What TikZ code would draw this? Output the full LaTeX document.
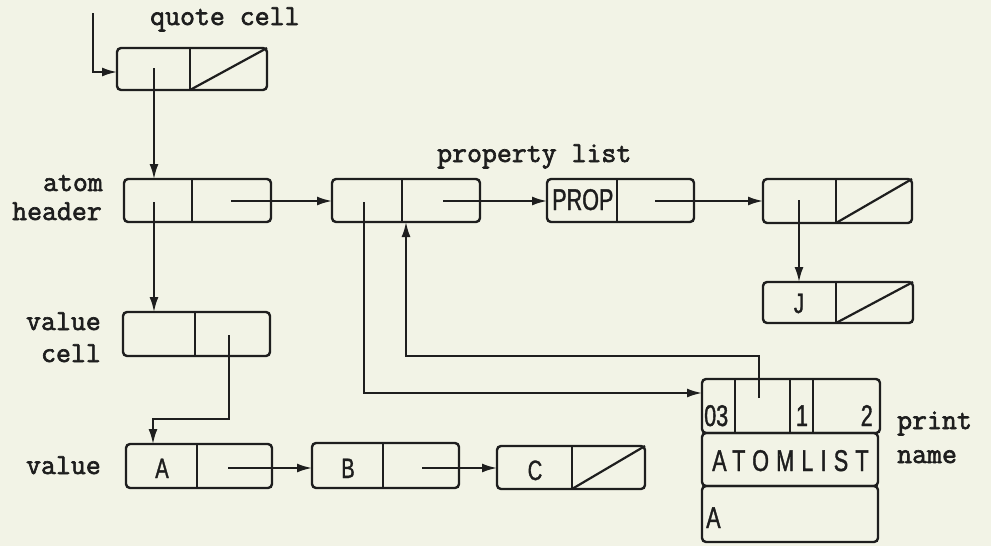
\documentclass[tikz,border=0pt]{standalone}
\usepackage{fontspec}
\usetikzlibrary{arrows.meta}
\newfontfamily\labfont[FakeBold=2.2]{Latin Modern Mono}
\newfontfamily\cellfont[FakeStretch=0.72,FakeBold=1.2]{Liberation Sans}
\newfontfamily\cellfontsp[FakeStretch=0.72,FakeBold=1.2,LetterSpace=24]{Liberation Sans}
\definecolor{paper}{RGB}{242,243,230}
\definecolor{ink}{RGB}{30,30,30}
\newcommand\conscell[6]{%
  \node[cell, minimum width={(#4-#2)*1pt}, minimum height={(#5-#3)*1pt}] (#1) at ({(#2+#4)/2},{(#3+#5)/2}) {};
  \coordinate (#1-dt) at (#6,#3);
  \coordinate (#1-db) at (#6,#5);
  \draw[divline] (#1-dt) -- (#1-db);
}
\newcommand\nilslash[1]{\draw[divline] (#1-db) -- (#1.north east);}
\begin{document}
\begin{tikzpicture}[x=1pt,y=-1pt,
  cell/.style={draw=ink, rounded corners=4pt, line width=2.4pt, inner sep=0pt, outer sep=0pt},
  divline/.style={draw=ink, line width=2.2pt},
  ptr/.style={draw=ink, line width=2pt, -{Latex[length=15pt,width=9pt]}},
  lab/.style={font=\labfont\fontsize{29}{30}\selectfont, inner sep=0pt, text=ink},
  ct/.style={font=\cellfont\fontsize{30}{32}\selectfont, inner sep=0pt, text=ink},
  cts/.style={font=\cellfont\fontsize{28}{30}\selectfont, inner sep=0pt, text=ink}]
\fill[paper] (0,0) rectangle (991,546);
\useasboundingbox (0,0) rectangle (991,546);

% cons cells
\conscell{q}{117}{48}{267}{90}{190}
\nilslash{q}
\conscell{h}{124}{179}{271}{222}{192}
\conscell{p1}{332}{179}{480}{222}{402}
\conscell{p2}{547}{179}{694}{222}{617}
\conscell{p3}{763}{179}{912}{223}{836}
\nilslash{p3}
\conscell{j}{763}{282}{913}{323}{836}
\nilslash{j}
\conscell{v}{123}{312}{270}{356}{195}
\conscell{a}{126}{444}{272}{488}{197}
\conscell{b}{312}{443}{459}{488}{383}
\conscell{c}{497}{446}{645}{489}{572}
\nilslash{c}

% print name block
\node[cell, minimum width=178pt, minimum height=54pt] (pn) at (791,406) {};
\draw[divline] (735,379) -- (735,433);
\draw[divline] (790,379) -- (790,433);
\draw[divline] (813,379) -- (813,433);
\node[cell, minimum width=176pt, minimum height=53pt] (pn2) at (790,459.5) {};
\node[cell, minimum width=176pt, minimum height=56pt] (pn3) at (790,514) {};

% cell texts
\node[ct, anchor=base west] (tprop) at (552,210) {PROP};
\node[cts, anchor=base] (tA) at (162,478) {A};
\node[cts, anchor=base] (tB) at (348,478) {B};
\node[cts, anchor=base] (tC) at (535,480) {C};
\node[cts, anchor=base] (tJ) at (799,313) {J};
\node[ct, anchor=base west] (t03) at (704,426) {03};
\node[ct, anchor=base] (t1) at (802,426) {1};
\node[ct, anchor=base east] (t2) at (873,426) {2};
\node[ct, anchor=base west, font=\cellfontsp\fontsize{30}{32}\selectfont] (tatl) at (712,471) {ATOMLIST};
\node[ct, anchor=base west] (tA2) at (706,528) {A};

% labels
\node[lab, anchor=base west] (lq) at (150,25) {quote cell};
\node[lab, anchor=base west] (lp) at (437,162) {property list};
\node[lab, anchor=base east] (lh1) at (103,191) {atom};
\node[lab, anchor=base east] (lh2) at (102,220) {header};
\node[lab, anchor=base east] (lv1) at (101,330) {value};
\node[lab, anchor=base east] (lv2) at (101,362) {cell};
\node[lab, anchor=base east] (lv3) at (101,474) {value};
\node[lab, anchor=base west] (lpn1) at (897,429) {print};
\node[lab, anchor=base west] (lpn2) at (897,463) {name};

% pointer origins
\coordinate (start) at (93,13);
\coordinate (qin) at (117,72);
\coordinate (qa) at (154,68);
\coordinate (ha) at (154,202);
\coordinate (hb) at (231,201);
\coordinate (p1a) at (364,202);
\coordinate (p1b) at (443,201);
\coordinate (p2b) at (655,201);
\coordinate (p3a) at (799,200);
\coordinate (vb) at (229,335);
\coordinate (bend8) at (153,419);
\coordinate (ab) at (228,468);
\coordinate (bb) at (422,468);
\coordinate (pnin) at (702,393);
\coordinate (pnp) at (759,398);
\coordinate (bend12) at (406,356);

% connectors
\draw[ptr] (start) |- (qin);
\draw[ptr] (qa) -- (qa |- h.north);
\draw[ptr] (ha) -- (ha |- v.north);
\draw[ptr] (hb) -- (hb -| p1.west);
\draw[ptr] (p1b) -- (p1b -| p2.west);
\draw[ptr] (p2b) -- (p2b -| p3.west);
\draw[ptr] (p3a) -- (p3a |- j.north);
\draw[ptr] (vb) |- (bend8) -- (bend8 |- a.north);
\draw[ptr] (ab) -- (ab -| b.west);
\draw[ptr] (bb) -- (bb -| c.west);
\draw[ptr] (p1a) |- (pnin);
\draw[ptr] (pnp) |- (bend12) -- (bend12 |- p1.south);
\end{tikzpicture}
\end{document}
